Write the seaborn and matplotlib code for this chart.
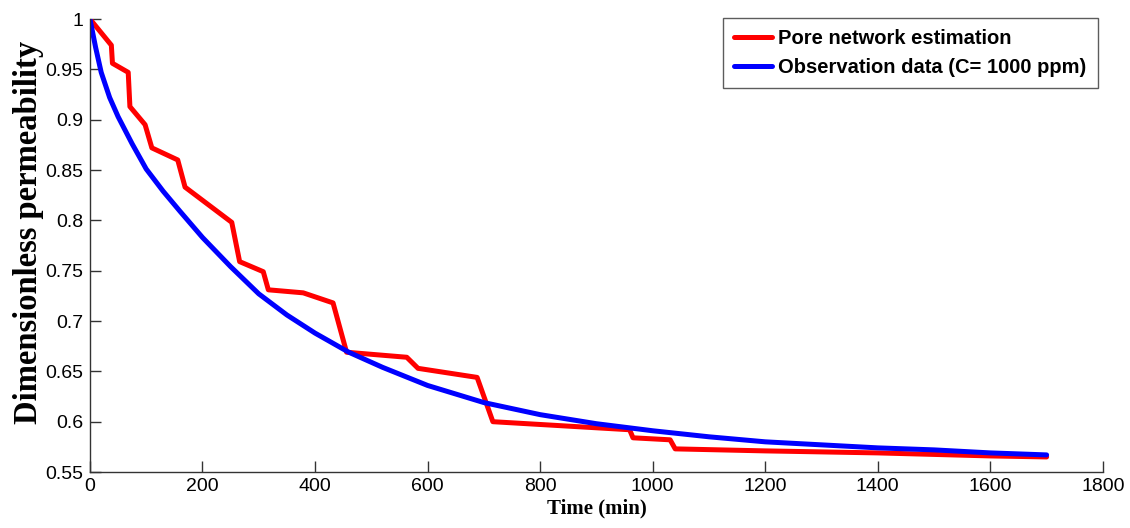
import numpy as np
import pandas as pd
import matplotlib
matplotlib.use('Agg')
import matplotlib.pyplot as plt
import seaborn as sns

# Pore network estimation (red, stepwise)
red_t = [0, 38, 40, 68, 71, 98, 110, 156, 169, 252, 266, 308, 317, 379, 432, 456,
         563, 583, 688, 716, 959, 965, 1031, 1040, 1200, 1400, 1600, 1700]
red_k = [1.0, 0.974, 0.956, 0.947, 0.913, 0.895, 0.872, 0.860, 0.833, 0.798, 0.759,
         0.749, 0.731, 0.728, 0.718, 0.669, 0.664, 0.653, 0.644, 0.600, 0.592, 0.584,
         0.582, 0.573, 0.571, 0.569, 0.566, 0.565]

# Observation data (blue, smooth)
blue_t = [0, 10, 20, 35, 50, 75, 100, 130, 160, 200, 250, 300, 350, 400, 460, 520,
          600, 700, 800, 900, 1000, 1100, 1200, 1300, 1400, 1500, 1600, 1700]
blue_k = [1.0, 0.972, 0.947, 0.922, 0.903, 0.876, 0.851, 0.829, 0.809, 0.783, 0.754,
          0.727, 0.706, 0.688, 0.669, 0.654, 0.636, 0.619, 0.607, 0.598, 0.591, 0.585,
          0.580, 0.577, 0.574, 0.572, 0.569, 0.567]

sns.set_theme(style='white')
plt.rcParams['font.family'] = ['Liberation Sans', 'DejaVu Sans']
plt.rcParams['text.color'] = 'black'
plt.rcParams['xtick.direction'] = 'in'
plt.rcParams['ytick.direction'] = 'in'

fig, ax = plt.subplots(figsize=(11.3, 5.28), dpi=100)
fig.subplots_adjust(left=0.0796, right=0.976, bottom=0.106, top=0.964)

df_red = pd.DataFrame({'t': red_t, 'k': red_k})
df_blue = pd.DataFrame({'t': blue_t, 'k': blue_k})
sns.lineplot(data=df_red, x='t', y='k', ax=ax, color='#ff0000', lw=3.6,
             label='Pore network estimation')
sns.lineplot(data=df_blue, x='t', y='k', ax=ax, color='#0000ff', lw=3.6,
             label='Observation data (C= 1000 ppm)')

ax.set_xlim(0, 1800)
ax.set_ylim(0.55, 1.0)
ax.set_xticks(np.arange(0, 1801, 200))
ax.set_yticks(np.arange(0.55, 1.001, 0.05))
ax.set_yticklabels(['0.55', '0.6', '0.65', '0.7', '0.75', '0.8', '0.85', '0.9', '0.95', '1'])

for s in ['top', 'right']:
    ax.spines[s].set_visible(False)
for s in ['left', 'bottom']:
    ax.spines[s].set_color('#333333')
    ax.spines[s].set_linewidth(1.0)

ax.tick_params(axis='both', direction='in', length=8, width=1, color='#333333',
               labelsize=14, labelcolor='black', bottom=True, left=True)
ax.tick_params(axis='y', pad=5)
ax.tick_params(axis='x', pad=4)

ax.set_xlabel('Time (min)', family='Liberation Serif', fontweight='bold', fontsize=15,
              labelpad=3, color='black')
ax.set_ylabel('Dimensionless permeability', family='Liberation Serif', fontweight='bold',
              fontsize=23.5, labelpad=1, color='black')
ax.yaxis.label.set_y(0.53)

leg = ax.legend(loc='upper right', bbox_to_anchor=(0.996, 1.005), borderaxespad=0.05,
                frameon=True, fancybox=False, edgecolor='#333333',
                prop={'weight': 'bold', 'size': 14.5}, handlelength=1.9,
                handletextpad=0.3, labelspacing=0.5, borderpad=0.55)
leg.get_frame().set_linewidth(1.0)
for txt in leg.get_texts():
    txt.set_color('black')

plt.savefig('out.png', dpi=100)
